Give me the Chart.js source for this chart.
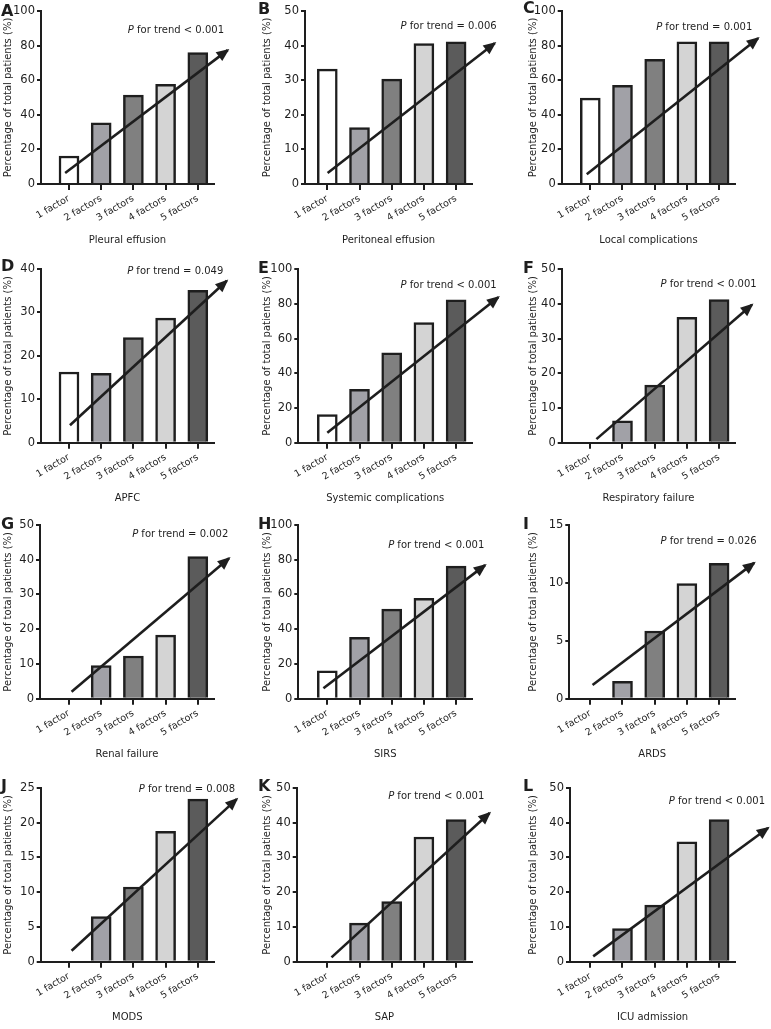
<!DOCTYPE html>
<html>
<head>
<meta charset="utf-8">
<script src="https://cdn.jsdelivr.net/npm/chart.js@4.4.0/dist/chart.umd.min.js"></script>
<style>
    body { margin: 0; background: #fff; }
    #wrap { position: relative; width: 771px; height: 1029px; overflow: hidden; }
    #wrap canvas { position: absolute; }
</style>
</head>
<body>
<div id="wrap"></div>
<script>
// Data
var categories = ['1 factor', '2 factors', '3 factors', '4 factors', '5 factors'];
var outcomes = ['Pleural effusion', 'Peritoneal effusion', 'Local complications', 'APFC',
    'Systemic complications', 'Respiratory failure', 'Renal failure', 'SIRS', 'ARDS',
    'MODS', 'SAP', 'ICU admission'];
var panelLetters = ['A', 'B', 'C', 'D', 'E', 'F', 'G', 'H', 'I', 'J', 'K', 'L'];
var pTrend = ['< 0.001', '= 0.006', '= 0.001', '= 0.049', '< 0.001', '< 0.001',
    '= 0.002', '< 0.001', '= 0.026', '= 0.008', '< 0.001', '< 0.001'];
var yMax = [100, 50, 100, 40, 100, 50, 50, 100, 15, 25, 50, 50];
var yStep = [20, 10, 20, 10, 20, 10, 10, 20, 5, 5, 10, 10];

var pleuralEffusion = [16.2, 35.3, 51.4, 57.6, 76.0];
var peritonealEffusion = [33.2, 16.3, 30.3, 40.6, 41.1];
var localComplications = [49.6, 57.1, 72.0, 82.2, 82.2];
var apfc = [16.3, 16.0, 24.2, 28.7, 35.1];
var systemicComplications = [16.3, 30.8, 51.7, 69.2, 82.3];
var respiratoryFailure = [0, 6.35, 16.6, 36.1, 41.2];
var renalFailure = [0, 9.5, 12.3, 18.3, 40.9];
var sirs = [16.0, 35.4, 51.6, 57.8, 76.3];
var ards = [0, 1.5, 5.85, 9.95, 11.7];
var mods = [0, 6.5, 10.75, 18.76, 23.4];
var sap = [0, 11.1, 17.3, 35.9, 40.9];
var icuAdmission = [0, 9.5, 16.3, 34.5, 40.9];
var panelValues = [pleuralEffusion, peritonealEffusion, localComplications, apfc,
    systemicComplications, respiratoryFailure, renalFailure, sirs, ards, mods, sap, icuAdmission];

// trend arrows: start / end (x in category index, y in %)
var arrowX0 = [-0.12, 0.01, -0.11, 0.03, 0.0, 0.19, 0.08, -0.12, 0.07, 0.08, 0.13, 0.09];
var arrowY0 = [6.4, 3.2, 5.6, 4.05, 5.8, 1.06, 2.0, 6.0, 1.18, 1.58, 1.25, 1.54];
var arrowX1 = [4.93, 5.2, 5.21, 4.9, 5.31, 5.02, 4.97, 4.9, 5.09, 5.21, 5.04, 5.52];
var arrowY1 = [77.4, 40.7, 84.2, 37.3, 83.7, 39.7, 40.4, 76.9, 11.73, 23.4, 42.8, 38.5];

// Layout (page pixels)
var colLeft = [0, 255, 510];
var colWidth = [255, 255, 261];
var colTick1 = [69, 327.3, 590.3];
var colTitleX = [8, 267.4, 533.3];
var colLetterX = [1, 258, 523];
var rowTop = [11, 268.5, 525, 788.3];
var rowBottom = [184, 442.3, 698.7, 962];
var axisX = [41, 305, 561.7, 41, 298.3, 561.7, 40, 298.3, 569.3, 40.7, 296.7, 570];
var pRight = [224, 496.7, 752.3, 223.3, 496.7, 756.7, 228.3, 484.3, 756.7, 235, 484.3, 765];
var pY = [30, 26.7, 27, 271.3, 284.7, 284, 534, 545.7, 541.7, 789.3, 796.7, 801.7];
var letterY = [12, 10, 9, 266, 268, 268, 525, 525, 525, 787.5, 787.5, 787.5];
var tickGap = 32.2;
var padTop = 18, boxH = 257;

var ink = '#1e1e1e';
var barFills = ['#ffffff', '#a1a1a7', '#808080', '#d4d4d4', '#5b5b5b'];
var fontFamily = 'Verdana, "DejaVu Sans", sans-serif';

Chart.defaults.font.family = fontFamily;
Chart.defaults.color = ink;

// panel letter, P for trend text, arrow head
var panelDecor = {
    id: 'panelDecor',
    afterDatasetsDraw: function (chart, args, o) {
        var ctx = chart.ctx;
        var meta = chart.getDatasetMeta(1);
        var a = meta.data[0], b = meta.data[1];
        var ang = Math.atan2(b.y - a.y, b.x - a.x);
        ctx.save();
        ctx.translate(b.x, b.y);
        ctx.rotate(ang);
        ctx.fillStyle = ink;
        ctx.beginPath();
        ctx.moveTo(2, 0);
        ctx.lineTo(-11, -5.5);
        ctx.lineTo(-11, 5.5);
        ctx.closePath();
        ctx.fill();
        ctx.restore();
    },
    afterDraw: function (chart, args, o) {
        var ctx = chart.ctx;
        ctx.save();
        ctx.fillStyle = ink;
        ctx.textBaseline = 'middle';
        ctx.font = 'bold 16px ' + fontFamily;
        ctx.textAlign = 'left';
        ctx.fillText(o.letter, o.letterX, o.letterY);

        ctx.font = '10px ' + fontFamily;
        var rest = ' for trend ' + o.p;
        var wRest = ctx.measureText(rest).width;
        ctx.font = 'italic 10px ' + fontFamily;
        var wP = ctx.measureText('P').width;
        var x0 = o.pRight - wRest - wP;
        ctx.fillText('P', x0, o.pY);
        ctx.font = '10px ' + fontFamily;
        ctx.fillText(rest, x0 + wP, o.pY);
        ctx.restore();
    }
};

var wrap = document.getElementById('wrap');

for (var i = 0; i < 12; i++) {
    (function (i) {
        var col = i % 3, row = Math.floor(i / 3);
        var left = colLeft[col], top = rowTop[row] - padTop;
        var w = colWidth[col];
        var cv = document.createElement('canvas');
        cv.width = w;
        cv.height = boxH;
        cv.style.left = left + 'px';
        cv.style.top = top + 'px';
        wrap.appendChild(cv);

        var yw = axisX[i] - left;
        var plotRight = colTick1[col] + 4.5 * tickGap - left;
        var xMin = -(colTick1[col] - axisX[i]) / tickGap;
        var plotH = rowBottom[row] - rowTop[row];
        var xh = boxH - padTop - plotH;
        var titlePad = colTitleX[col] - left - 6;

        new Chart(cv, {
            data: {
                datasets: [{
                    type: 'bar',
                    data: categories.map(function (c, k) { return { x: k, y: panelValues[i][k] }; }),
                    backgroundColor: barFills,
                    borderColor: ink,
                    borderWidth: 2.5,
                    barThickness: 20,
                    order: 1
                }, {
                    type: 'line',
                    data: [{ x: arrowX0[i], y: arrowY0[i] }, { x: arrowX1[i], y: arrowY1[i] }],
                    borderColor: ink,
                    borderWidth: 2.6,
                    pointRadius: 0,
                    fill: false,
                    clip: false,
                    order: 0
                }]
            },
            options: {
                responsive: false,
                animation: false,
                devicePixelRatio: 1,
                layout: { padding: { top: padTop, left: 0, bottom: 0, right: w - plotRight } },
                plugins: {
                    legend: { display: false },
                    tooltip: { enabled: false },
                    panelDecor: {
                        letter: panelLetters[i],
                        letterX: colLetterX[col] - left,
                        letterY: letterY[i] - top,
                        p: pTrend[i],
                        pRight: pRight[i] - left,
                        pY: pY[i] - top
                    }
                },
                scales: {
                    x: {
                        type: 'linear',
                        offset: false,
                        min: xMin,
                        max: 4.5,
                        afterBuildTicks: function (s) {
                            s.ticks = categories.map(function (c, k) { return { value: k }; });
                        },
                        ticks: {
                            callback: function (v) { return categories[v]; },
                            autoSkip: false,
                            minRotation: 30,
                            maxRotation: 30,
                            font: { size: 9.5 },
                            padding: 3
                        },
                        grid: { offset: false, drawOnChartArea: false, tickLength: 6, color: ink, lineWidth: 2 },
                        border: { display: true, color: ink, width: 2 },
                        title: {
                            display: true,
                            text: outcomes[i],
                            font: { size: 10 },
                            padding: { top: 0, bottom: 4 }
                        },
                        afterFit: function (s) { s.height = xh; }
                    },
                    y: {
                        min: 0,
                        max: yMax[i],
                        ticks: { stepSize: yStep[i], font: { size: 11.5 }, padding: 2 },
                        grid: { drawOnChartArea: false, tickLength: 4, color: ink, lineWidth: 2 },
                        border: { display: true, color: ink, width: 2 },
                        title: {
                            display: true,
                            text: 'Percentage of total patients (%)',
                            font: { size: 10 },
                            padding: { top: titlePad, bottom: 0 }
                        },
                        afterFit: function (s) { s.width = yw; }
                    }
                }
            },
            plugins: [panelDecor]
        });
    })(i);
}
</script>
</body>
</html>
